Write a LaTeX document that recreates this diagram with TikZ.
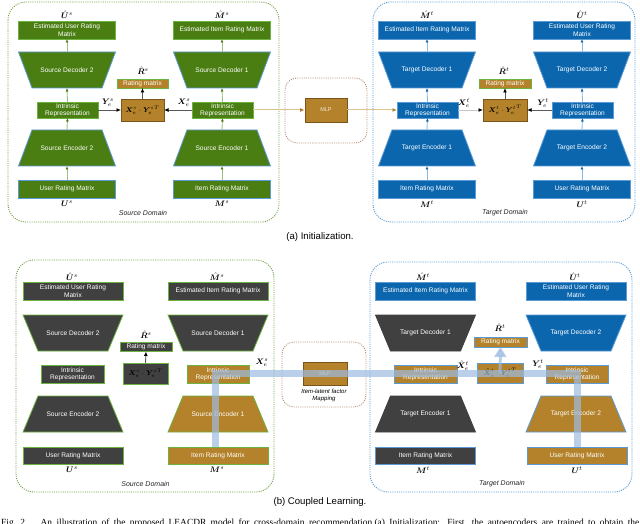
\documentclass[tikz,border=0pt]{standalone}
\usepackage{fontspec}
\setmainfont{Liberation Sans}
\newfontfamily\serifcap{Liberation Serif}
\usepackage{bm}
\usetikzlibrary{arrows.meta}
\definecolor{gfill}{HTML}{4A7D12}
\definecolor{gline}{HTML}{6DB33F}
\definecolor{bfill}{HTML}{0B66AE}
\definecolor{bline}{HTML}{5B9BD5}
\definecolor{tfill}{HTML}{B3822A}
\definecolor{tline}{HTML}{7A5418}
\definecolor{dfill}{HTML}{404040}
\definecolor{gdot}{HTML}{6E9E3E}
\definecolor{bdot}{HTML}{4A97D6}
\definecolor{mdot}{HTML}{B98D70}
\definecolor{bandc}{HTML}{9DBBE0}
\definecolor{mlpline}{HTML}{DCC491}
\definecolor{garr}{HTML}{9DBF85}
\definecolor{barr}{HTML}{8DBBE0}
\newcommand{\trapz}[8]{%
  \filldraw[fill=#6,draw=#7,line width=0.8pt] ({#2-(#4)/2},#3) -- ({#2+(#4)/2},#3) -- ({#2+(#5)/2},{#3+36}) -- ({#2-(#5)/2},{#3+36}) -- cycle;
  \node[txt,minimum width=#4,minimum height=36] (#1) at (#2,{#3+18}) {#8};}
\begin{document}
\begin{tikzpicture}[x=1pt,y=-1pt,
  txt/.style={text=white,font=\fontsize{6.6}{7.4}\selectfont,align=center,inner sep=0pt,outer sep=0pt},
  bx/.style={txt,draw,line width=0.8pt,minimum width=97,minimum height=18},
  bxb/.style={bx,minimum width=100},
  lab/.style={font=\fontsize{8}{9}\selectfont,inner sep=0pt,text=black},
  prod/.style={line width=0.8pt,inner sep=0pt,outer sep=0pt,font=\fontsize{7.5}{8}\selectfont,text=black},
  dom/.style={font=\itshape\fontsize{7}{8}\selectfont,text=black!85,inner sep=0pt},
  region/.style={rounded corners=18pt,line width=0.9pt,dash pattern=on 1pt off 1.2pt},
  varrS/.style={draw=garr,line width=0.9pt,-{Latex[length=3.5pt,width=3pt,color=gfill]}},
  varrT/.style={draw=barr,line width=0.9pt,-{Latex[length=3.5pt,width=3pt,color=bfill]}},
  harr/.style={draw=gray!70!black,line width=0.9pt,-{Latex[length=4.5pt,width=4pt,color=black]}},
  mlparr/.style={draw=mlpline,line width=1pt,-{Latex[length=4.5pt,width=4pt,color=tfill]}},
  mlpbox/.style={fill=tfill,draw=tline,line width=0.9pt,inner sep=0pt,text=white!85!tfill,font=\fontsize{5.5}{6}\selectfont},
  band/.style={draw=bandc,opacity=0.7,line width=7pt},
  bandarr/.style={draw=bandc,opacity=0.7,line width=3pt,-{Triangle[length=10pt,width=12pt]}},
  captext/.style={font=\fontsize{9.6}{11}\selectfont,inner sep=0pt}
]
\useasboundingbox (0,0) rectangle (640,524);
\fill[white] (0,0) rectangle (640,524);

% ================= (a) Initialization =================
\draw[region,draw=gdot] (8,2) rectangle (279,222);
\draw[region,draw=bdot] (373,2) rectangle (635,222);
\draw[region,draw=mdot,rounded corners=12pt] (285,78) rectangle (367,143);
\node[dom] (aSdom) at (143,213) {Source Domain};
\node[dom] (aTdom) at (505,213) {Target Domain};

% source left column
\node[lab] (aUhs) at (67,14.5) {$\hat{\bm U}^{s}$};
\node[bx,fill=gfill,draw=gline] (aSLest) at (67,30) {Estimated User Rating\\Matrix};
\trapz{aSLdec}{67}{52}{97}{70}{gfill}{bline}{Source Decoder 2}
\node[bx,fill=gfill,draw=gline,minimum width=61,minimum height=16] (aSLint) at (67.5,110) {Intrinsic\\Representation};
\trapz{aSLenc}{67}{130}{70}{97}{gfill}{bline}{Source Encoder 2}
\node[bx,fill=gfill,draw=bline] (aSLin) at (67,189) {User Rating Matrix};
\node[lab] (aUs) at (67,204) {$\bm U^{s}$};
\draw[varrS] (aSLin.north) -- (aSLenc.south);
\draw[varrS] (aSLenc.north) -- (aSLint.south);
\draw[varrS] (aSLint.north) -- (aSLdec.south);
\draw[varrS] (aSLdec.north) -- (aSLest.south);

% source right column
\node[lab] (aMhs) at (222,14.5) {$\hat{\bm M}^{s}$};
\node[bx,fill=gfill,draw=gline] (aSRest) at (222,30) {Estimated Item Rating Matrix};
\trapz{aSRdec}{222}{52}{97}{70}{gfill}{bline}{Source Decoder 1}
\node[bx,fill=gfill,draw=gline,minimum width=61,minimum height=16] (aSRint) at (222.5,110) {Intrinsic\\Representation};
\trapz{aSRenc}{222}{130}{70}{97}{gfill}{bline}{Source Encoder 1}
\node[bx,fill=gfill,draw=bline] (aSRin) at (222,189) {Item Rating Matrix};
\node[lab] (aMs) at (222,204) {$\bm M^{s}$};
\draw[varrS] (aSRin.north) -- (aSRenc.south);
\draw[varrS] (aSRenc.north) -- (aSRint.south);
\draw[varrS] (aSRint.north) -- (aSRdec.south);
\draw[varrS] (aSRdec.north) -- (aSRest.south);

% source middle
\node[lab] (aRhs) at (143,70.5) {$\hat{\bm R}^{s}$};
\node[bx,fill=tfill,draw=gline,minimum width=51,minimum height=9] (aSrat) at (142.5,83.5) {Rating matrix};
\node[prod,fill=tfill,draw=tline,minimum width=43,minimum height=22] (aSprod) at (142.5,110) {$\bm X_e^s\cdot{\bm Y_e^s}^{T}$};
\draw[harr] (aSLint.east) -- (aSprod.west);
\draw[harr] (aSRint.west) -- (aSprod.east);
\draw[harr] (aSprod.north) -- (aSrat.south);
\node[lab] (aYs) at (108,103) {$\bm Y_e^s$};
\node[lab] (aXs) at (184,103) {$\bm X_e^s$};

% MLP
\node[mlpbox,minimum width=42,minimum height=24] (aMLP) at (326,110) {MLP};

% target left column
\node[lab] (aMht) at (427,14.5) {$\hat{\bm M}^{t}$};
\node[bx,fill=bfill,draw=bline] (aTLest) at (427,30) {Estimated Item Rating Matrix};
\trapz{aTLdec}{427}{52}{97}{70}{bfill}{bline}{Target Decoder 1}
\node[bx,fill=bfill,draw=bline,minimum width=61,minimum height=16] (aTLint) at (427.5,110) {Intrinsic\\Representation};
\trapz{aTLenc}{427}{130}{70}{97}{bfill}{bline}{Target Encoder 1}
\node[bx,fill=bfill,draw=bline] (aTLin) at (427,189) {Item Rating Matrix};
\node[lab] (aMt) at (427,204) {$\bm M^{t}$};
\draw[varrT] (aTLin.north) -- (aTLenc.south);
\draw[varrT] (aTLenc.north) -- (aTLint.south);
\draw[varrT] (aTLint.north) -- (aTLdec.south);
\draw[varrT] (aTLdec.north) -- (aTLest.south);

% target right column
\node[lab] (aUht) at (582,14.5) {$\hat{\bm U}^{t}$};
\node[bx,fill=bfill,draw=bline] (aTRest) at (582,30) {Estimated User Rating\\Matrix};
\trapz{aTRdec}{582}{52}{97}{70}{bfill}{bline}{Target Decoder 2}
\node[bx,fill=bfill,draw=bline,minimum width=61,minimum height=16] (aTRint) at (582.5,110) {Intrinsic\\Representation};
\trapz{aTRenc}{582}{130}{70}{97}{bfill}{bline}{Target Encoder 2}
\node[bx,fill=bfill,draw=bline] (aTRin) at (582,189) {User Rating Matrix};
\node[lab] (aUt) at (582,204) {$\bm U^{t}$};
\draw[varrT] (aTRin.north) -- (aTRenc.south);
\draw[varrT] (aTRenc.north) -- (aTRint.south);
\draw[varrT] (aTRint.north) -- (aTRdec.south);
\draw[varrT] (aTRdec.north) -- (aTRest.south);

% target middle
\node[lab] (aRht) at (504,70.5) {$\hat{\bm R}^{t}$};
\node[bx,fill=tfill,draw=gline,minimum width=52,minimum height=9] (aTrat) at (505,83.5) {Rating matrix};
\node[prod,fill=tfill,draw=tline,minimum width=44,minimum height=22] (aTprod) at (505,110) {$\bm X_e^t\cdot{\bm Y_e^t}^{T}$};
\draw[harr,draw=gray!45] (aTLint.east) -- (aTprod.west);
\draw[harr] (aTRint.west) -- (aTprod.east);
\draw[harr] (aTprod.north) -- (aTrat.south);
\node[lab] (aXt) at (464,103) {$\bm X_e^t$};
\node[lab] (aYt) at (543,103) {$\bm Y_e^t$};

\draw[mlparr] (aSRint.east) -- (aMLP.west);
\draw[mlparr] (aMLP.east) -- (aTLint.west);

\node[captext] (capA) at (320,237) {(a) Initialization.};

% ================= (b) Coupled Learning =================
\draw[region,draw=gdot] (16,260) rectangle (274,492);
\draw[region,draw=bdot] (370,262) rectangle (632,492);
\draw[region,draw=mdot,rounded corners=12pt] (282,342) rectangle (366,407);
\node[dom] (bSdom) at (145.5,484) {Source Domain};
\node[dom] (bTdom) at (502,484) {Target Domain};

% source left column
\node[lab] (bUhs) at (72,276.5) {$\hat{\bm U}^{s}$};
\node[bxb,fill=dfill,draw=gline] (bSLest) at (73,291) {Estimated User Rating\\Matrix};
\trapz{bSLdec}{73}{315}{100}{70}{dfill}{gline}{Source Decoder 2}
\node[bx,fill=dfill,draw=gline,minimum width=63,minimum height=18] (bSLint) at (72.5,374) {Intrinsic\\Representation};
\trapz{bSLenc}{73}{396}{70}{100}{dfill}{gline}{Source Encoder 2}
\node[bxb,fill=dfill,draw=gline,minimum height=17] (bSLin) at (73,455.5) {User Rating Matrix};
\node[lab] (bUs) at (72,470) {$\bm U^{s}$};

% source right column
\node[lab] (bMhs) at (217,276.5) {$\hat{\bm M}^{s}$};
\node[bxb,fill=dfill,draw=gline] (bSRest) at (218,291) {Estimated Item Rating Matrix};
\trapz{bSRdec}{218}{315}{100}{70}{dfill}{gline}{Source Decoder 1}
\node[bx,fill=tfill,draw=gline,minimum width=62,minimum height=18] (bSRint) at (218,374) {Intrinsic\\Representation};
\trapz{bSRenc}{218}{396}{70}{100}{tfill}{gline}{Source Encoder 1}
\node[bxb,fill=tfill,draw=gline,minimum height=17] (bSRin) at (218,455.5) {Item Rating Matrix};
\node[lab] (bMs) at (217,470) {$\bm M^{s}$};

% source middle
\node[lab] (bRhs) at (146,334.5) {$\hat{\bm R}^{s}$};
\node[bx,fill=dfill,draw=gline,minimum width=52,minimum height=9] (bSrat) at (146,347) {Rating matrix};
\node[prod,fill=dfill,draw=gline,minimum width=45,minimum height=21] (bSprod) at (145.5,373.5) {$\bm X_e^s\cdot{\bm Y_e^s}^{T}$};
\draw[harr] (bSprod.north) -- (bSrat.south);

% MLP
\node[mlpbox,minimum width=44,minimum height=23] (bMLP) at (325,373.5) {MLP};
\node[font=\itshape\fontsize{6}{7.2}\selectfont,align=center,inner sep=0pt] (bMap) at (324,395.5) {Item-latent factor\\Mapping};

% target left column
\node[lab] (bMht) at (423,276.5) {$\hat{\bm M}^{t}$};
\node[bxb,fill=bfill,draw=bline] (bTLest) at (425.5,291) {Estimated Item Rating Matrix};
\trapz{bTLdec}{425.5}{315}{100}{70}{dfill}{dfill}{Target Decoder 1}
\node[bx,fill=tfill,draw=bline,minimum width=63,minimum height=18] (bTLint) at (425.5,374) {Intrinsic\\Representation};
\trapz{bTLenc}{425.5}{396}{70}{100}{dfill}{dfill}{Target Encoder 1}
\node[bxb,fill=dfill,draw=bline,minimum height=17] (bTLin) at (425.5,455.5) {Item Rating Matrix};
\node[lab] (bMt) at (423,470) {$\bm M^{t}$};

% target right column
\node[lab] (bUht) at (575,276.5) {$\hat{\bm U}^{t}$};
\node[bxb,fill=bfill,draw=bline] (bTRest) at (576,291) {Estimated User Rating\\Matrix};
\trapz{bTRdec}{576}{315}{100}{70}{bfill}{bline}{Target Decoder 2}
\node[bx,fill=tfill,draw=bline,minimum width=62,minimum height=18] (bTRint) at (577,374) {Intrinsic\\Representation};
\trapz{bTRenc}{576}{396}{70}{100}{tfill}{bline}{Target Encoder 2}
\node[bxb,fill=tfill,draw=bline,minimum height=17] (bTRin) at (577,455.5) {User Rating Matrix};
\node[lab] (bUt) at (577,470) {$\bm U^{t}$};

% target middle
\node[lab] (bRht) at (500,327.5) {$\hat{\bm R}^{t}$};
\node[bx,fill=tfill,draw=bline,minimum width=53,minimum height=10] (bTrat) at (500.5,342) {Rating matrix};
\node[prod,fill=tfill,draw=bline,minimum width=46,minimum height=20] (bTprod) at (500,373) {$\hat{\bm X}_e^t\cdot{\bm Y_e^t}^{T}$};

% coupled-learning path
\draw[band] (bSRin.north -| 215,0) -- (215,373.5) -- (577,373.5) -- (bTRin.north);
\draw[bandarr] (bTprod.center) -- (bTrat.south);

\node[lab] (bXs) at (262,362.5) {$\bm X_e^s$};
\node[lab] (bXt) at (463,365.5) {$\hat{\bm X}_e^t$};
\node[lab] (bYt) at (538,364.5) {$\bm Y_e^t$};

\node[captext] (capB) at (320,502) {(b) Coupled Learning.};

\node[anchor=base west,inner sep=0pt,font=\serifcap\fontsize{9.4}{10}\selectfont] (figcap) at (1,525.5) {\makebox[638pt][s]{Fig.~2.\hspace{1.4em}An illustration of the proposed LEACDR model for cross-domain recommendation.(a) Initialization: First, the autoencoders are trained to obtain the}};
\end{tikzpicture}
\end{document}
